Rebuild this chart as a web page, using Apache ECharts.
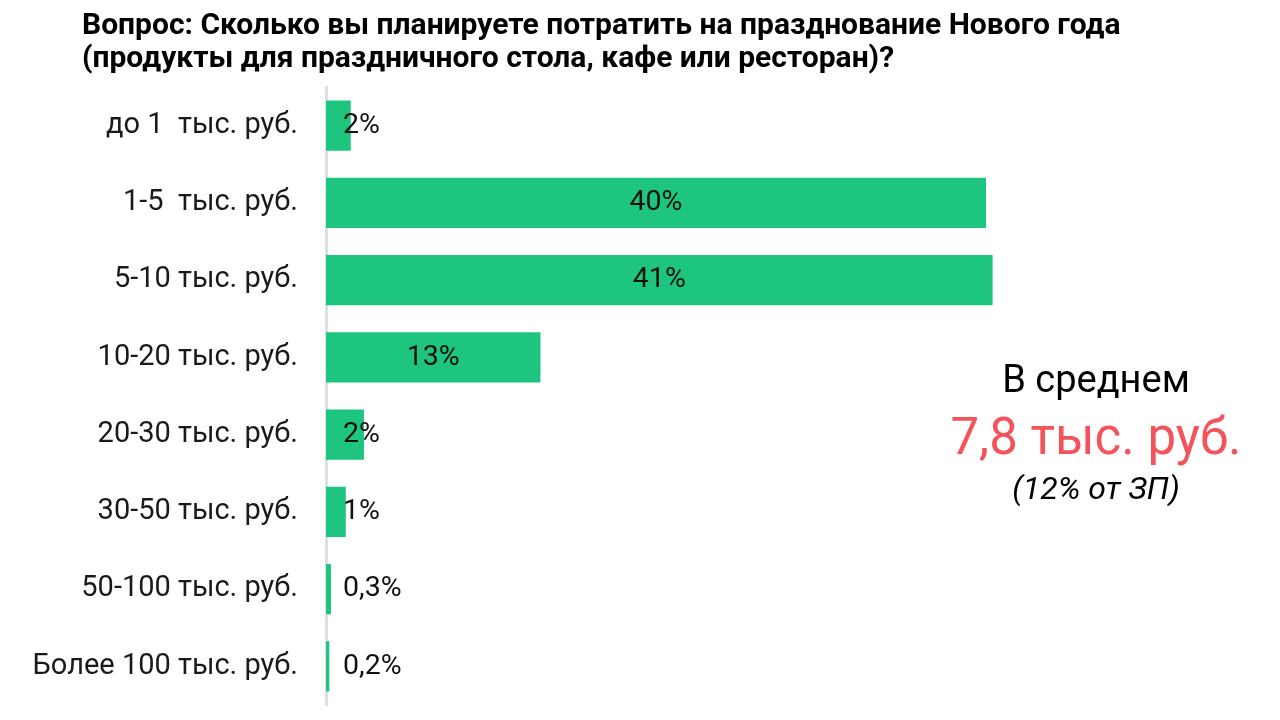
<!DOCTYPE html>
<html>
<head>
<meta charset="utf-8">
<script src="https://cdn.jsdelivr.net/npm/echarts@6/dist/echarts.min.js"></script>
<style>
  html, body { margin: 0; padding: 0; background: #fff; }
  #chart { width: 1280px; height: 720px; }
</style>
</head>
<body>
<div id="chart"></div>
<script>
// категории сверху вниз
const categories = [
  'до 1  тыс. руб.',
  '1-5  тыс. руб.',
  '5-10 тыс. руб.',
  '10-20 тыс. руб.',
  '20-30 тыс. руб.',
  '30-50 тыс. руб.',
  '50-100 тыс. руб.',
  'Более 100 тыс. руб.'
];
const values = [1.5, 40, 40.4, 13, 2.3, 1.2, 0.3, 0.2];
const valueLabels = ['2%', '40%', '41%', '13%', '2%', '1%', '0,3%', '0,2%'];

const titleLines = [
  'Вопрос: Сколько вы планируете потратить на празднование Нового года',
  '(продукты для праздничного стола, кафе или ресторан)?'
];
const avgLines = ['В среднем', '7,8 тыс. руб.', '(12% от ЗП)'];

const FONT = 'Roboto, "Noto Sans", sans-serif';
const GREEN = '#1ec57f';

const chart = echarts.init(document.getElementById('chart'));

chart.setOption({
  animation: false,
  title: {
    text: titleLines.join('\n'),
    left: 77,
    top: 5,
    textStyle: {
      fontFamily: FONT,
      fontWeight: 'bold',
      fontSize: 30,
      lineHeight: 33,
      color: '#000'
    }
  },
  grid: { left: 326, top: 87, width: 825, height: 618, containLabel: false },
  xAxis: {
    type: 'value',
    min: 0,
    max: 50,
    show: false
  },
  yAxis: {
    type: 'category',
    inverse: true,
    data: categories,
    axisLine: { show: true, lineStyle: { color: '#d9d9d9', width: 2.5 } },
    axisTick: { show: false },
    axisLabel: {
      margin: 28,
      fontFamily: FONT,
      fontSize: 29,
      color: '#1a1a1a'
    }
  },
  series: [{
    type: 'bar',
    barCategoryGap: '35%',
    itemStyle: { color: GREEN },
    data: values.map((v, i) => ({
      value: v,
      label: v >= 5
        ? { position: 'inside' }
        : { position: [17, '50%'], align: 'left', verticalAlign: 'middle' }
    })),
    label: {
      show: true,
      fontFamily: FONT,
      fontSize: 28.5,
      color: '#111',
      formatter: p => valueLabels[p.dataIndex]
    }
  }],
  graphic: [
    {
      type: 'text', x: 1096, y: 382,
      style: { text: avgLines[0], font: '38px ' + FONT, fill: '#000', align: 'center', verticalAlign: 'middle' }
    },
    {
      type: 'text', x: 1096, y: 441,
      style: { text: avgLines[1], font: '51px ' + FONT, fill: '#f5535b', align: 'center', verticalAlign: 'middle' }
    },
    {
      type: 'text', x: 1096, y: 491,
      style: { text: avgLines[2], font: 'italic 32px ' + FONT, fill: '#000', align: 'center', verticalAlign: 'middle' }
    }
  ]
});
</script>
</body>
</html>
